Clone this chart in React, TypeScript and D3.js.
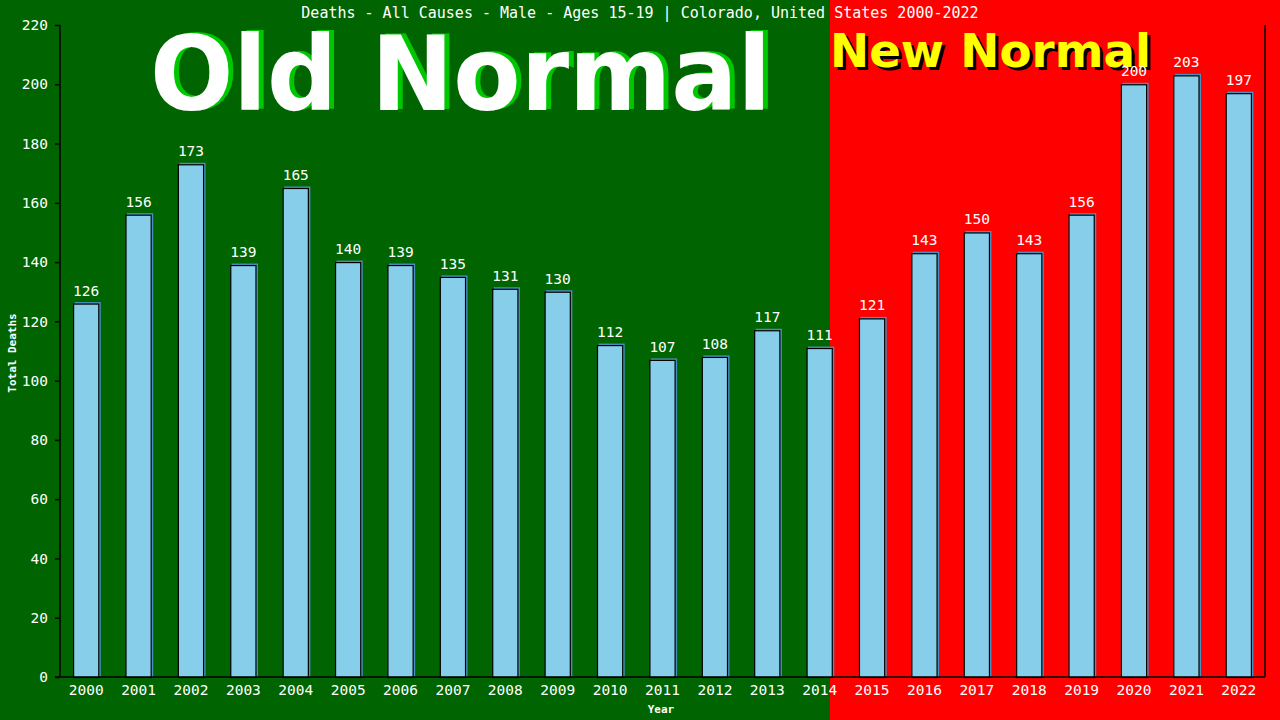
import React, { useEffect, useRef } from "react";
import * as d3 from "d3";

const years = [
  "2000", "2001", "2002", "2003", "2004", "2005", "2006", "2007", "2008", "2009", "2010", "2011",
  "2012", "2013", "2014", "2015", "2016", "2017", "2018", "2019", "2020", "2021", "2022",
];
const deaths = [
  126, 156, 173, 139, 165, 140, 139, 135, 131, 130, 112, 107, 108, 117, 111, 121, 143, 150, 143,
  156, 200, 203, 197,
];
const yTicks = [0, 20, 40, 60, 80, 100, 120, 140, 160, 180, 200, 220];
const title = "Deaths - All Causes - Male - Ages 15-19 | Colorado, United States 2000-2022";

const W = 1280;
const H = 720;
const mono = "'DejaVu Sans Mono', monospace";
const heavy = "'DejaVu Sans', Verdana, sans-serif";

const App = () => {
  const svgRef = useRef<SVGSVGElement | null>(null);

  useEffect(() => {
    document.body.style.margin = "0";
    const svg = d3.select(svgRef.current);
    svg.selectAll("*").remove();

    const x = d3.scaleBand<string>().domain(years).range([60, 1265]).paddingInner(0.5).paddingOuter(0.25);
    const y = d3.scaleLinear().domain([0, 220]).range([677, 25]);

    // backgrounds: old normal / new normal
    const split = 830;
    svg.append("rect").attr("x", 0).attr("y", 0).attr("width", split).attr("height", H).attr("fill", "#006400");
    svg.append("rect").attr("x", split).attr("y", 0).attr("width", W - split).attr("height", H).attr("fill", "#ff0000");

    // big labels
    const bigOld = (dx: number, dy: number, fill: string) =>
      svg
        .append("text")
        .attr("x", 150 + dx)
        .attr("y", 110 + dy)
        .attr("textLength", 621)
        .attr("lengthAdjust", "spacingAndGlyphs")
        .attr("font-family", heavy)
        .attr("font-weight", "bold")
        .attr("font-size", 103)
        .attr("fill", fill)
        .text("Old Normal");
    bigOld(5, -1, "#00c800");
    bigOld(0, 0, "#ffffff");

    const bigNew = (dx: number, dy: number, fill: string) =>
      svg
        .append("text")
        .attr("x", 830 + dx)
        .attr("y", 67 + dy)
        .attr("textLength", 321)
        .attr("lengthAdjust", "spacingAndGlyphs")
        .attr("font-family", heavy)
        .attr("font-weight", "bold")
        .attr("font-size", 47)
        .attr("fill", fill)
        .text("New Normal");
    bigNew(3, 3, "#000000");
    bigNew(0, 0, "#ffff00");

    // title
    svg
      .append("text")
      .attr("x", 640)
      .attr("y", 18)
      .attr("text-anchor", "middle")
      .attr("font-family", mono)
      .attr("font-size", 15)
      .attr("fill", "#ffffff")
      .text(title);

    // bars
    const bars = svg.append("g").selectAll("g").data(years).enter().append("g");
    bars
      .append("rect")
      .attr("x", (d) => (x(d) as number) + 1.5)
      .attr("y", (d, i) => y(deaths[i]) - 1.5)
      .attr("width", x.bandwidth())
      .attr("height", (d, i) => 677 - y(deaths[i]) + 1.5)
      .attr("fill", "#4a8fc0");
    bars
      .append("rect")
      .attr("x", (d) => (x(d) as number) + 0.5)
      .attr("y", (d, i) => y(deaths[i]) + 0.5)
      .attr("width", x.bandwidth() - 1)
      .attr("height", (d, i) => 677 - y(deaths[i]))
      .attr("fill", "#87ceeb")
      .attr("stroke", "#000000")
      .attr("stroke-width", 1.2);
    bars
      .append("text")
      .attr("x", (d) => (x(d) as number) + x.bandwidth() / 2)
      .attr("y", (d, i) => y(deaths[i]) - 8)
      .attr("text-anchor", "middle")
      .attr("font-family", mono)
      .attr("font-size", 14.5)
      .attr("fill", "#ffffff")
      .text((d, i) => deaths[i]);

    // axes
    const yAxis = svg.append("g").attr("transform", "translate(60,0)").call(d3.axisLeft(y).tickValues(yTicks).tickSize(5).tickPadding(7));
    const xAxis = svg.append("g").attr("transform", "translate(0,677)").call(d3.axisBottom(x).tickSize(0).tickPadding(8));
    [yAxis, xAxis].forEach((a) => {
      a.select(".domain").attr("stroke", "#000000").attr("stroke-width", 1.5);
      a.selectAll(".tick line").attr("stroke", "#000000").attr("stroke-width", 1.5);
      a.selectAll(".tick text").attr("fill", "#ffffff").attr("font-family", mono).attr("font-size", 14.5);
    });
    yAxis.select(".domain").attr("d", "M0,25V677");
    xAxis.select(".domain").attr("d", "M55,0H1265");

    svg.append("line").attr("x1", 1265).attr("x2", 1265).attr("y1", 25).attr("y2", 677).attr("stroke", "#000000").attr("stroke-width", 1.5);

    // axis titles
    svg
      .append("text")
      .attr("transform", "translate(16,353) rotate(-90)")
      .attr("text-anchor", "middle")
      .attr("font-family", mono)
      .attr("font-weight", "bold")
      .attr("font-size", 11)
      .attr("fill", "#ffffff")
      .text("Total Deaths");
    svg
      .append("text")
      .attr("x", 661)
      .attr("y", 713)
      .attr("text-anchor", "middle")
      .attr("font-family", mono)
      .attr("font-weight", "bold")
      .attr("font-size", 11)
      .attr("fill", "#ffffff")
      .text("Year");
  }, []);

  return <svg ref={svgRef} width={W} height={H} style={{ display: "block" }} />;
};

export default App;
